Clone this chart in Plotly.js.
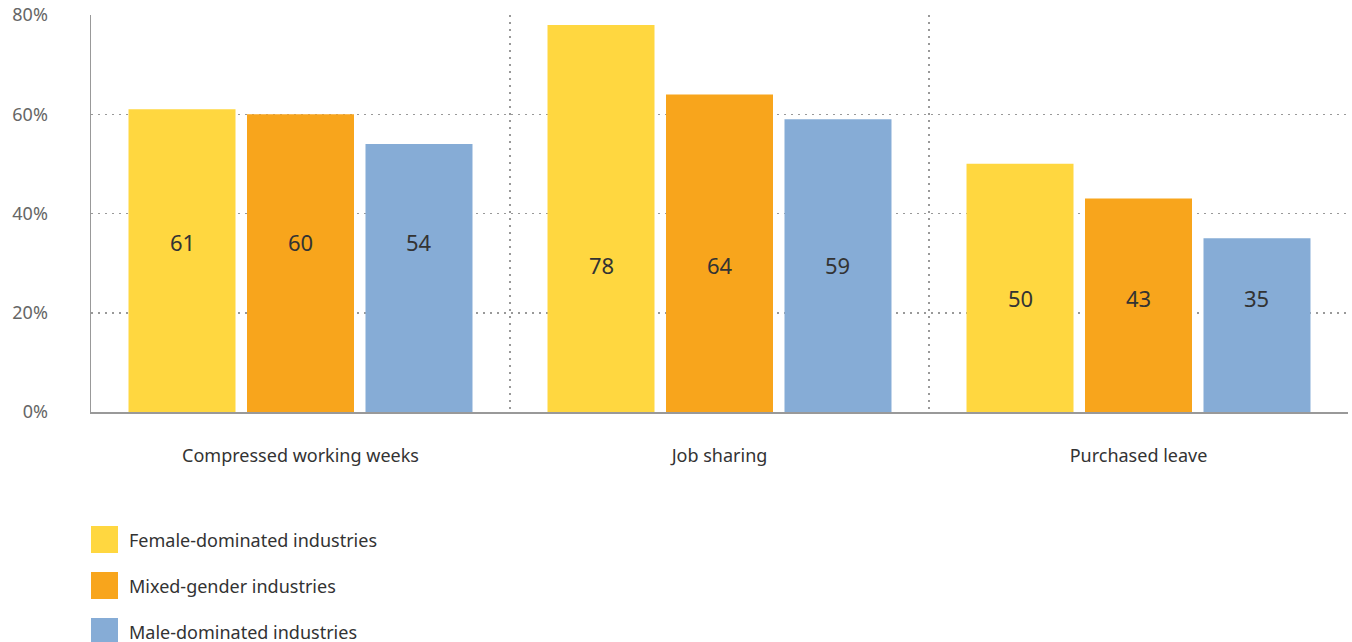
<!DOCTYPE html>
<html>
<head>
<meta charset="utf-8">
<script src="https://cdn.plot.ly/plotly-3.0.1.min.js"></script>
<style>html,body{margin:0;padding:0;background:#fff;}#chart{width:1352px;height:642px;}</style>
</head>
<body>
<div id="chart"></div>
<script>
const categories = ["Compressed working weeks", "Job sharing", "Purchased leave"];
const seriesNames = ["Female-dominated industries", "Mixed-gender industries", "Male-dominated industries"];
const femaleValues = [61, 78, 50];
const mixedValues = [60, 64, 43];
const maleValues = [54, 59, 35];
const labelLevels = [34.3, 29.6, 23]; // label heights (%) per category as in the reference
const yTickVals = [0, 20, 40, 60, 80];
const yTickText = ["0%", "20%", "40%", "60%", "80%"];

const colors = ["#FFD740", "#F8A51C", "#86ACD6"];
const allValues = [femaleValues, mixedValues, maleValues];
const bargap = 0.1516;
const FONT = "Noto Sans, Open Sans, sans-serif";

const traces = allValues.map((vals, j) => ({
  type: "bar",
  x: categories,
  y: vals,
  name: seriesNames[j],
  marker: {color: colors[j], line: {width: 0}},
  showlegend: false,
  hoverinfo: "x+y+name"
}));

const annotations = [];
const slot = (1 - bargap) / 3;
allValues.forEach((vals, j) => {
  vals.forEach((v, i) => {
    annotations.push({
      xref: "x", yref: "y",
      x: i + (j - 1) * slot,
      y: labelLevels[i],
      text: String(v),
      showarrow: false,
      font: {family: FONT, size: 22, color: "#333"}
    });
  });
});

// Legend drawn manually with large square swatches
const plotW = 1257, plotH = 397, plotBottom = 412;
const shapes = [];
seriesNames.forEach((name, j) => {
  const cy = 540 + j * 46;
  shapes.push({
    type: "rect", xref: "paper", yref: "paper",
    x0: 0, x1: 27 / plotW,
    y0: (plotBottom - (cy + 13)) / plotH,
    y1: (plotBottom - (cy - 14)) / plotH,
    fillcolor: colors[j], line: {width: 0}
  });
  annotations.push({
    xref: "paper", yref: "paper",
    x: 36 / plotW, y: (plotBottom - cy) / plotH,
    xanchor: "left", yanchor: "middle",
    text: name, showarrow: false,
    font: {family: FONT, size: 18, color: "#333"}
  });
});

const layout = {
  width: 1352, height: 642,
  margin: {l: 91, r: 4, t: 15, b: 230},
  paper_bgcolor: "#fff", plot_bgcolor: "#fff",
  barmode: "group",
  bargap: bargap,
  bargroupgap: 0.097,
  font: {family: FONT, color: "#333"},
  xaxis: {
    type: "category",
    tickson: "boundaries",
    ticks: "",
    showgrid: true, gridcolor: "#999", gridwidth: 1.5, griddash: "2px,5px",
    showline: true, linecolor: "#999", linewidth: 1.5,
    tickfont: {family: FONT, size: 18, color: "#333"},
    ticklabelstandoff: 27,
    fixedrange: true
  },
  yaxis: {
    range: [0, 80],
    tickvals: yTickVals, ticktext: yTickText,
    showgrid: true, gridcolor: "#999", gridwidth: 1.5, griddash: "2px,5px",
    zeroline: false,
    showline: true, linecolor: "#999", linewidth: 1.5,
    tickfont: {family: FONT, size: 18, color: "#666"},
    ticklabelstandoff: 38,
    fixedrange: true
  },
  showlegend: false,
  annotations: annotations,
  shapes: shapes
};

Plotly.newPlot("chart", traces, layout, {displayModeBar: false, staticPlot: true});
</script>
</body>
</html>
